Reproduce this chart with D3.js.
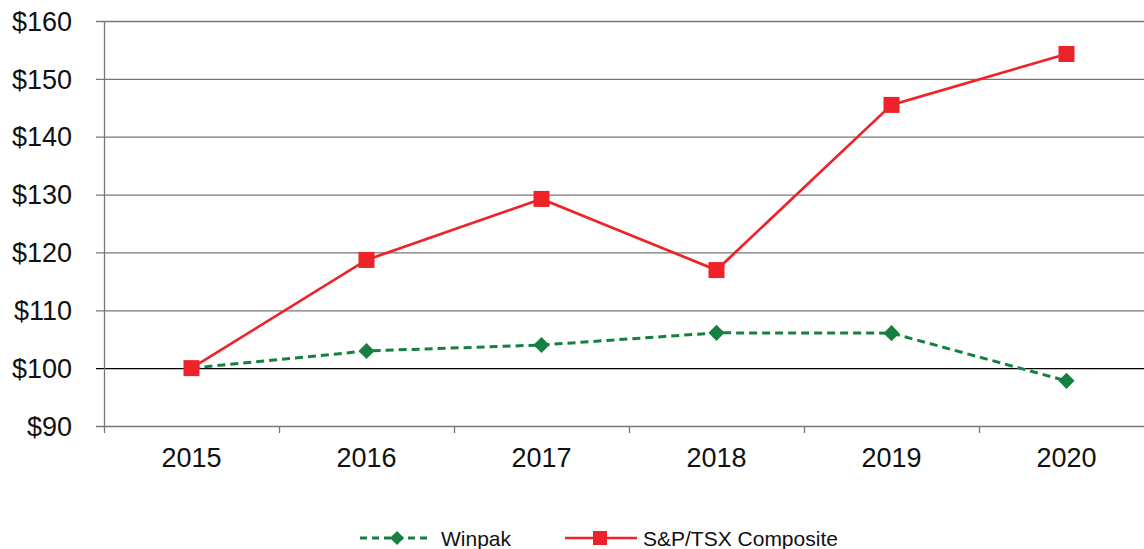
<!DOCTYPE html>
<html>
<head>
<meta charset="utf-8">
<script src="https://cdn.jsdelivr.net/npm/d3@7"></script>
<style>
  body { margin: 0; background: #fff; }
  svg { display: block; }
</style>
</head>
<body>
<svg id="chart"></svg>
<script>
const years = ["2015", "2016", "2017", "2018", "2019", "2020"];
const winpak = [100, 102.97, 104.0, 106.1, 106.05, 97.8];
const tsx = [100, 118.7, 129.25, 116.95, 145.5, 154.3];
const yTicks = [90, 100, 110, 120, 130, 140, 150, 160];

const width = 1144, height = 549;
const plotLeft = 104, plotTop = 21, plotBottom = 426;

const svg = d3.select("#chart")
    .attr("width", width)
    .attr("height", height)
    .attr("font-family", "Liberation Sans, Arial, sans-serif");

const x = d3.scaleBand()
    .domain(years)
    .range([plotLeft, plotLeft + 175 * 6]);

const y = d3.scaleLinear()
    .domain([90, 160])
    .range([plotBottom, plotTop]);

// gridlines
svg.append("g")
    .selectAll("line")
    .data(yTicks)
    .join("line")
    .attr("x1", plotLeft - 8)
    .attr("x2", width)
    .attr("y1", d => y(d) + 0.5)
    .attr("y2", d => y(d) + 0.5)
    .attr("stroke", d => d == 100 ? "#000" : "#777")
    .attr("stroke-width", 1.3);

// y labels
svg.append("g")
    .selectAll("text")
    .data(yTicks)
    .join("text")
    .attr("x", 72)
    .attr("y", d => y(d))
    .attr("dy", "0.36em")
    .attr("text-anchor", "end")
    .attr("font-size", 27)
    .attr("fill", "#111")
    .text(d => "$" + d);

// y axis line
svg.append("line")
    .attr("x1", plotLeft + 0.5).attr("x2", plotLeft + 0.5)
    .attr("y1", plotTop).attr("y2", plotBottom + 7)
    .attr("stroke", "#777")
    .attr("stroke-width", 1.3);

// x ticks at band boundaries
const bounds = years.map(d => x(d)).concat([x.range()[1]]);
svg.append("g")
    .selectAll("line")
    .data(bounds.slice(1))
    .join("line")
    .attr("x1", d => d + 0.5).attr("x2", d => d + 0.5)
    .attr("y1", plotBottom).attr("y2", plotBottom + 7)
    .attr("stroke", "#777")
    .attr("stroke-width", 1.3);

// x labels
svg.append("g")
    .selectAll("text")
    .data(years)
    .join("text")
    .attr("x", d => x(d) + x.bandwidth() / 2)
    .attr("y", 467)
    .attr("text-anchor", "middle")
    .attr("font-size", 27)
    .attr("fill", "#111")
    .text(d => d);

const cx = i => x(years[i]) + x.bandwidth() / 2;

const green = "#168040";
const red = "#ee2229";

// winpak line
svg.append("path")
    .datum(winpak)
    .attr("fill", "none")
    .attr("stroke", green)
    .attr("stroke-width", 3)
    .attr("stroke-dasharray", "8,5")
    .attr("d", d3.line().x((d, i) => cx(i)).y(d => y(d)));

// tsx line
svg.append("path")
    .datum(tsx)
    .attr("fill", "none")
    .attr("stroke", red)
    .attr("stroke-width", 2.7)
    .attr("d", d3.line().x((d, i) => cx(i)).y(d => y(d)));

const diamond = d3.symbol().type(d3.symbolSquare).size(130);

svg.append("g")
    .selectAll("path")
    .data(winpak)
    .join("path")
    .attr("d", diamond)
    .attr("transform", (d, i) => "translate(" + cx(i) + "," + y(d) + ") rotate(45)")
    .attr("fill", green);

svg.append("g")
    .selectAll("rect")
    .data(tsx)
    .join("rect")
    .attr("x", (d, i) => cx(i) - 8)
    .attr("y", d => y(d) - 8)
    .attr("width", 16)
    .attr("height", 16)
    .attr("fill", red);

// legend
const lg = svg.append("g").attr("transform", "translate(0,538)");
lg.append("line")
    .attr("x1", 360).attr("x2", 432)
    .attr("stroke", green).attr("stroke-width", 3)
    .attr("stroke-dasharray", "7,5");
lg.append("path")
    .attr("d", d3.symbol().type(d3.symbolSquare).size(100))
    .attr("transform", "translate(397,0) rotate(45)")
    .attr("fill", green);
lg.append("text")
    .attr("x", 441).attr("dy", "0.36em")
    .attr("font-size", 21)
    .attr("fill", "#111")
    .text("Winpak");

lg.append("line")
    .attr("x1", 565).attr("x2", 637)
    .attr("stroke", red).attr("stroke-width", 2.7);
lg.append("rect")
    .attr("x", 593).attr("y", -7)
    .attr("width", 14).attr("height", 14)
    .attr("fill", red);
lg.append("text")
    .attr("x", 643).attr("dy", "0.36em")
    .attr("font-size", 21)
    .attr("fill", "#111")
    .text("S&P/TSX Composite");
</script>
</body>
</html>
